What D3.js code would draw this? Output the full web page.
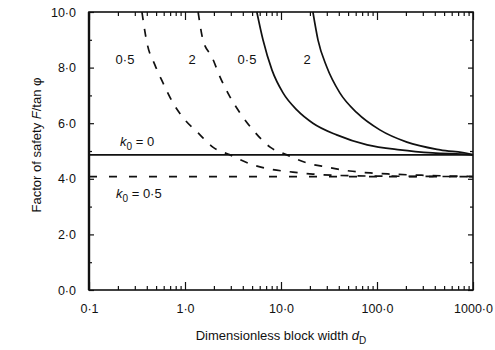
<!DOCTYPE html>
<html>
<head>
<meta charset="utf-8">
<script src="https://cdn.jsdelivr.net/npm/d3@7"></script>
<style>
  body { margin: 0; background: #fff; }
  text { font-family: "Liberation Sans", Arial, sans-serif; fill: #111; }
</style>
</head>
<body>
<svg id="chart" width="495" height="350"></svg>
<script>
// k0 = 0 (solid), rock parameter 0.5 and 2
var solid05X = [5.6, 6.5, 8.06, 10.5, 14.7, 21.5, 38, 79, 174, 380, 930, 1000];
var solid05Y = [10, 8.99, 7.91, 7.09, 6.47, 6.0, 5.58, 5.22, 5.04, 4.93, 4.87, 4.86];
var solid2X = [21.5, 24.3, 30, 41, 62, 107, 205, 455, 930, 1000];
var solid2Y = [10, 8.99, 8.02, 7.09, 6.37, 5.76, 5.32, 5.04, 4.89, 4.86];
// k0 = 0.5 (dashed)
var dash05X = [0.356, 0.40, 0.487, 0.59, 0.75, 1.0, 1.37, 1.95, 2.95, 4.8, 7.7, 13.3, 21.5, 52, 200, 1000];
var dash05Y = [10, 8.92, 8.09, 7.45, 6.73, 6.12, 5.65, 5.14, 4.86, 4.53, 4.35, 4.24, 4.17, 4.11, 4.09, 4.08];
var dash2X = [1.37, 1.54, 1.91, 2.32, 2.95, 3.74, 5.1, 7.7, 11.5, 18.6, 30, 52, 85, 136, 355, 1000];
var dash2Y = [10, 8.99, 8.38, 7.66, 6.94, 6.37, 5.76, 5.14, 4.86, 4.57, 4.42, 4.28, 4.21, 4.17, 4.12, 4.08];
// asymptotes
var flatX = [0.1, 1000];
var flatSolidY = [4.86, 4.86];
var flatDashY = [4.08, 4.08];

var xMajor = [0.1, 1, 10, 100, 1000];
var yMajor = [0, 2, 4, 6, 8, 10];
var yMinor = [1, 3, 5, 7, 9];

var svg = d3.select("#chart");
var pLeft = 89, pRight = 473, pTop = 12, pBottom = 290;

var x = d3.scaleLog().domain([0.1, 1000]).range([pLeft, pRight]);
var y = d3.scaleLinear().domain([0, 10]).range([pBottom, pTop]);

var xMinor = [];
[0.1, 1, 10, 100].forEach(function (d) {
    for (var i = 2; i <= 9; i++) xMinor.push(d * i);
});

var fmt = function (d) { return d3.format(".1f")(d).replace(".", "\u00b7"); };

function styleAxis(g) {
    g.select(".domain").remove();
    g.selectAll("line").attr("stroke", "#111").attr("stroke-width", 1.2);
    g.selectAll("text").attr("font-size", 12.5).attr("fill", "#111");
}

// bottom axis
svg.append("g").attr("transform", "translate(0," + pBottom + ")")
    .call(d3.axisBottom(x).tickValues(xMajor).tickSize(-8).tickPadding(14).tickFormat(fmt))
    .call(styleAxis);
svg.append("g").attr("transform", "translate(0," + pBottom + ")")
    .call(d3.axisBottom(x).tickValues(xMinor).tickSize(-4).tickFormat(""))
    .call(styleAxis);
// top axis
svg.append("g").attr("transform", "translate(0," + pTop + ")")
    .call(d3.axisTop(x).tickValues(xMajor).tickSize(-8).tickFormat(""))
    .call(styleAxis);
svg.append("g").attr("transform", "translate(0," + pTop + ")")
    .call(d3.axisTop(x).tickValues(xMinor).tickSize(-4).tickFormat(""))
    .call(styleAxis);
// left axis
svg.append("g").attr("transform", "translate(" + pLeft + ",0)")
    .call(d3.axisLeft(y).tickValues(yMajor).tickSize(-5).tickPadding(13).tickFormat(fmt))
    .call(styleAxis);
svg.append("g").attr("transform", "translate(" + pLeft + ",0)")
    .call(d3.axisLeft(y).tickValues(yMinor).tickSize(-3).tickFormat(""))
    .call(styleAxis);
// right axis
svg.append("g").attr("transform", "translate(" + pRight + ",0)")
    .call(d3.axisRight(y).tickValues(yMajor).tickSize(-5).tickFormat(""))
    .call(styleAxis);
svg.append("g").attr("transform", "translate(" + pRight + ",0)")
    .call(d3.axisRight(y).tickValues(yMinor).tickSize(-3).tickFormat(""))
    .call(styleAxis);

// frame
svg.append("rect")
    .attr("x", pLeft).attr("y", pTop)
    .attr("width", pRight - pLeft).attr("height", pBottom - pTop)
    .attr("fill", "none").attr("stroke", "#111").attr("stroke-width", 1.6);
svg.append("line")
    .attr("x1", pLeft).attr("x2", pLeft).attr("y1", pTop).attr("y2", pBottom)
    .attr("stroke", "#111").attr("stroke-width", 2.4);

var line = d3.line()
    .x(d => x(d[0]))
    .y(d => y(d[1]))
    .curve(d3.curveMonotoneX);

var series = [
    { xs: solid05X, ys: solid05Y, dash: null },
    { xs: solid2X, ys: solid2Y, dash: null },
    { xs: flatX, ys: flatSolidY, dash: null },
    { xs: dash05X, ys: dash05Y, dash: "8,9" },
    { xs: dash2X, ys: dash2Y, dash: "8,9" },
    { xs: flatX, ys: flatDashY, dash: "8,12" }
];

svg.append("g").selectAll("path")
    .data(series)
    .enter().append("path")
    .attr("d", s => line(s.xs.map((v, i) => [v, s.ys[i]])))
    .attr("fill", "none")
    .attr("stroke", "#111")
    .attr("stroke-width", 1.7)
    .attr("stroke-dasharray", s => s.dash);

// curve labels
var curveLabels = [
    { t: "0\u00b75", x: 125, y: 64 },
    { t: "2", x: 192, y: 64 },
    { t: "0\u00b75", x: 247, y: 64 },
    { t: "2", x: 307, y: 64 }
];
svg.append("g").selectAll("text")
    .data(curveLabels)
    .enter().append("text")
    .attr("x", d => d.x).attr("y", d => d.y)
    .attr("text-anchor", "middle")
    .attr("font-size", 13)
    .text(d => d.t);

function kLabel(px, py, val) {
    var t = svg.append("text").attr("x", px).attr("y", py).attr("font-size", 13);
    t.append("tspan").attr("font-style", "italic").text("k");
    t.append("tspan").attr("font-size", 10).attr("dy", 4).text("0");
    t.append("tspan").attr("dy", -4).text(" = " + val);
}
kLabel(120, 146, "0");
kLabel(116, 198, "0\u00b75");

// axis titles
var xt = svg.append("text")
    .attr("x", 281).attr("y", 340)
    .attr("text-anchor", "middle")
    .attr("font-size", 13);
xt.append("tspan").text("Dimensionless block width ");
xt.append("tspan").attr("font-style", "italic").text("d");
xt.append("tspan").attr("font-size", 10).attr("dy", 4).text("D");

var yt = svg.append("text")
    .attr("transform", "translate(41,145) rotate(-90)")
    .attr("text-anchor", "middle")
    .attr("font-size", 13);
yt.append("tspan").text("Factor of safety ");
yt.append("tspan").attr("font-style", "italic").text("F");
yt.append("tspan").text("/tan \u03c6");
</script>
</body>
</html>
